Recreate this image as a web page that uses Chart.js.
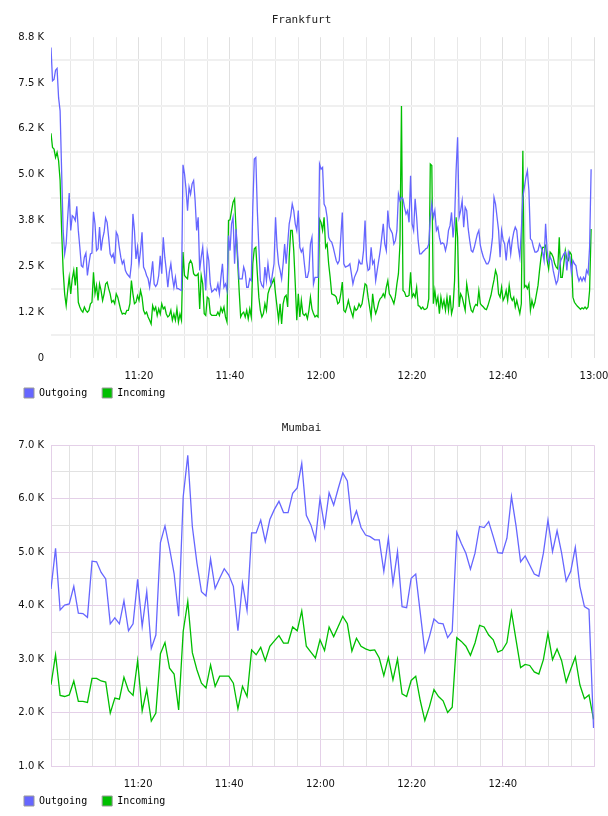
<!DOCTYPE html>
<html>
<head>
<meta charset="utf-8">
<script src="https://cdn.jsdelivr.net/npm/chart.js@4"></script>
<style>
  body { margin: 0; background: #fff; }
  .box { width: 608px; height: 408px; }
</style>
</head>
<body>
<div class="box"><canvas id="frankfurtChart" width="608" height="408"></canvas></div>
<div class="box"><canvas id="mumbaiChart" width="608" height="408"></canvas></div>
<script>
// sample times are minutes after 11:00
const frankfurtStart = 0.7;
const frankfurtStep = 1 / 3; // 20 s samples
const mumbaiStart = 0.9;
const mumbaiStep = 1; // 1 min samples

// values in K
const frankfurtOutgoing = [
  8.47, 7.56, 7.6, 7.85, 7.9, 7.1, 6.74, 5.1, 3.48, 2.84,
  3.11, 3.84, 4.5, 3.48, 3.88, 3.84, 3.75, 4.14, 3.48, 3.02,
  2.52, 2.48, 2.75, 2.86, 2.25, 2.57, 2.84, 2.86, 3.99, 3.66,
  2.93, 2.98, 3.57, 2.93, 3.25, 3.43, 3.82, 3.7, 3.29, 2.84,
  2.75, 2.84, 2.57, 3.43, 3.34, 3.02, 2.75, 2.57, 2.66, 2.39,
  2.3, 2.25, 2.2, 2.57, 3.93, 3.48, 2.7, 3.02, 2.57, 2.93,
  3.43, 2.48, 2.39, 2.25, 2.16, 1.93, 2.25, 2.64, 2.02, 1.95,
  2.02, 2.25, 2.79, 2.3, 3.29, 2.75, 2.39, 1.93, 2.34, 2.57,
  2.2, 1.93, 2.2, 1.89, 1.89, 1.86, 1.84, 5.27,
  5.02, 4.61, 4.02, 4.66, 4.47, 4.75, 4.84, 4.29, 3.48, 3.84,
  2.39, 2.75, 3.02, 2.39, 1.84, 2.89, 2.66, 2.02, 1.8, 1.84,
  1.89, 1.84, 2.02, 1.75, 2.2, 2.57, 1.93, 2.02, 1.84, 3.34,
  2.93, 3.66, 3.84, 2.57, 3.52, 2.84, 2.16, 2.16, 2.16, 2.48,
  2.34, 1.93, 1.93, 2.16, 2.11, 4.11, 5.43, 5.47, 4.02, 3.02,
  2.11, 1.98, 1.93, 2.48, 2.11, 2.57, 2.2, 2.02, 2.3, 2.57,
  3.84, 3.02, 2.57, 2.39, 2.16, 2.57, 3.11, 2.57, 3.11, 3.66,
  3.88, 4.2, 4.02, 3.66, 3.48, 4.02, 3.02, 2.89, 2.98, 2.57,
  2.2, 2.2, 2.39, 3.11, 3.29, 2.02, 2.2, 2.2, 2.2, 5.29,
  5.15, 5.2, 4.2, 4.11, 3.84, 3.29, 3.2, 3.16, 3.02, 2.84,
  2.66, 2.57, 2.66, 3.29, 3.97, 2.57, 2.48, 2.5, 2.52, 2.57,
  2.3, 2.02, 2.2, 2.3, 2.39, 2.66, 2.57, 2.57, 2.93, 3.75,
  2.66, 2.39, 2.43, 3.02, 2.57, 2.66, 2.11, 2.39, 2.66, 2.93,
  3.29, 3.66, 3.11, 2.93, 4.02, 3.57, 3.48, 3.4, 3.11, 3.2,
  3.48, 4.47, 4.29, 4.38, 4.34, 4.11, 3.93, 4.02, 3.7, 4.97,
  3.66, 3.48, 4.34, 3.84, 3.2, 2.84, 2.84, 2.89, 2.93, 2.98,
  3.0, 3.11, 3.84, 4.2, 3.84, 4.02, 3.48, 3.57, 3.29, 3.11,
  3.14, 3.11, 2.93, 3.11, 3.48, 3.61, 3.97, 3.29, 3.75, 5.11,
  6.02, 3.84, 4.02, 4.29, 3.57, 4.11, 4.02, 3.52, 3.2, 2.93,
  2.89, 3.02, 3.2, 3.38, 3.48, 3.07, 2.89, 2.75, 2.66, 2.57,
  2.57, 2.66, 2.93, 3.29, 4.38, 4.2, 3.84, 3.48, 2.75, 3.48,
  3.22, 3.11, 2.66, 3.11, 3.25, 2.84, 3.2, 3.43, 3.57, 3.48,
  3.02, 2.75, 3.48, 4.38, 4.65, 4.93, 5.11, 4.56, 3.25, 3.2,
  3.02, 2.89, 2.89, 2.93, 3.11, 3.02, 2.89, 2.66, 3.66, 2.93,
  2.61, 2.75, 2.66, 2.39, 2.2, 2.02, 2.11, 2.43, 2.66, 2.75,
  2.84, 2.89, 2.39, 2.89, 2.75, 2.34, 2.66, 2.57, 2.52, 2.25,
  2.1, 2.2, 2.1, 2.2, 2.11, 2.39, 2.3, 3.02, 5.15
];
const frankfurtIncoming = [
  6.13, 5.74, 5.7, 5.47, 5.61, 5.38, 4.84, 3.48, 2.39, 1.75,
  1.43, 1.84, 2.2, 1.75, 2.16, 2.39, 1.98, 2.48, 1.52, 1.39,
  1.3, 1.25, 1.39, 1.3, 1.25, 1.3, 1.48, 1.52, 2.34, 1.75,
  1.98, 1.57, 2.02, 1.84, 1.57, 1.75, 2.02, 2.07, 1.89, 1.75,
  1.52, 1.57, 1.48, 1.75, 1.66, 1.48, 1.3, 1.2, 1.22, 1.2,
  1.3, 1.3, 1.48, 2.11, 1.75, 1.48, 1.52, 1.7, 1.57, 1.84,
  1.66, 1.3, 1.2, 1.25, 1.12, 1.03, 0.93, 1.43, 1.3, 1.39,
  1.16, 1.34, 1.2, 1.48, 1.34, 1.39, 1.2, 1.12, 1.16, 1.3,
  1.03, 1.2, 1.03, 1.34, 0.98, 1.2, 1.03, 2.89,
  2.25, 2.2, 2.16, 2.57, 2.66, 2.57, 2.3, 2.25, 2.25, 2.3,
  1.34, 2.25, 2.02, 1.21, 1.16, 1.66, 1.62, 1.21, 1.16, 1.16,
  1.16, 1.16, 1.25, 1.16, 1.37, 1.25, 1.39, 1.12, 0.98, 3.75,
  3.77, 4.02, 4.25, 4.34, 3.48, 2.66, 1.84, 1.12, 1.21, 1.25,
  1.12, 1.3, 1.07, 1.34, 1.12, 2.57, 2.98, 3.02, 2.3, 1.66,
  1.3, 1.12, 1.21, 1.48, 1.3, 1.75, 1.89, 1.98, 2.07, 2.16,
  1.75, 1.39, 1.03, 1.48, 0.93, 1.48, 1.66, 1.71, 1.39, 2.75,
  3.48, 3.48, 2.93, 2.02, 1.03, 1.75, 1.12, 1.57, 1.21, 1.16,
  1.21, 1.07, 1.3, 1.66, 1.34, 1.21, 1.12, 1.16, 1.12, 3.79,
  3.7, 3.48, 3.84, 3.02, 3.11, 2.57, 2.2, 1.75, 1.73, 1.71,
  1.66, 1.48, 1.52, 1.75, 2.07, 1.3, 1.25, 1.39, 1.57, 1.39,
  1.25, 1.12, 1.39, 1.3, 1.34, 1.48, 1.39, 1.48, 1.75, 2.02,
  1.98, 1.66, 1.39, 1.12, 1.75, 1.39, 1.21, 1.34, 1.52, 1.62,
  1.66, 1.75, 1.66, 1.93, 2.11, 1.75, 1.68, 1.59, 1.48, 1.68,
  2.02, 2.3, 3.1, 6.87, 1.84, 1.8, 1.68, 1.68, 1.71, 2.34,
  1.66, 1.75, 1.66, 1.93, 1.43, 1.41, 1.34, 1.39, 1.32, 1.33,
  1.37, 1.62, 5.29, 5.25, 1.48, 1.84, 1.48, 1.66, 1.21, 1.66,
  1.39, 1.57, 1.3, 1.66, 1.3, 1.71, 1.21, 1.39, 2.11, 3.84,
  3.29, 1.39, 1.75, 1.66, 1.48, 1.3, 2.02, 1.75, 1.48, 1.3,
  1.25, 1.39, 1.46, 1.43, 1.84, 1.48, 1.43, 1.39, 1.34, 1.32,
  1.43, 1.57, 1.71, 1.93, 2.13, 2.39, 2.25, 1.75, 1.66, 1.93,
  1.57, 1.66, 1.84, 1.57, 1.98, 1.66, 1.57, 1.66, 1.39, 1.57,
  1.39, 1.21, 1.48, 5.65, 1.93, 1.98, 1.89, 2.02, 1.3, 1.57,
  1.39, 1.52, 1.75, 1.98, 2.39, 2.75, 3.02, 3.02, 3.07, 2.66,
  2.43, 2.89, 2.84, 2.75, 2.57, 2.48, 2.43, 3.29, 2.2, 2.2,
  2.57, 2.93, 2.7, 2.66, 2.89, 2.82, 1.66, 1.52, 1.46, 1.41,
  1.37, 1.33, 1.37, 1.34, 1.39, 1.34, 1.39, 1.84, 3.52
];

const mumbaiOutgoing = [
  4.31, 5.07, 3.92, 4.01, 4.03, 4.36, 3.86, 3.85, 3.78, 4.83,
  4.82, 4.62, 4.5, 3.66, 3.77, 3.66, 4.09, 3.53, 3.66, 4.49,
  3.61, 4.26, 3.2, 3.45, 5.18, 5.49, 5.07, 4.6, 3.8, 6.04,
  6.81, 5.48, 4.8, 4.26, 4.18, 4.87, 4.32, 4.51, 4.69, 4.57,
  4.36, 3.53, 4.42, 3.91, 5.36, 5.36, 5.6, 5.2, 5.61, 5.8,
  5.95, 5.74, 5.74, 6.1, 6.2, 6.66, 5.69, 5.51, 5.23, 6.0,
  5.48, 6.11, 5.88, 6.19, 6.48, 6.33, 5.54, 5.77, 5.46, 5.32,
  5.29, 5.23, 5.23, 4.64, 5.26, 4.41, 5.01, 3.98, 3.96, 4.51,
  4.59, 3.86, 3.14, 3.42, 3.75, 3.67, 3.66, 3.4, 3.52, 5.37,
  5.16, 4.98, 4.68, 4.98, 5.48, 5.46, 5.57, 5.29, 4.99, 4.98,
  5.26, 6.04, 5.49, 4.82, 4.93, 4.76, 4.59, 4.55, 4.98, 5.6,
  5.01, 5.4, 4.98, 4.46, 4.64, 5.09, 4.36, 3.98, 3.93, 1.71
];
const mumbaiIncoming = [
  2.52, 3.08, 2.32, 2.3, 2.33, 2.59, 2.21, 2.21, 2.19, 2.64,
  2.64, 2.59, 2.57, 1.99, 2.27, 2.25, 2.66, 2.41, 2.32, 2.97,
  2.03, 2.43, 1.84, 1.99, 3.1, 3.31, 2.83, 2.72, 2.05, 3.52,
  4.08, 3.12, 2.8, 2.55, 2.46, 2.89, 2.49, 2.68, 2.68, 2.68,
  2.55, 2.07, 2.49, 2.3, 3.17, 3.08, 3.22, 2.97, 3.24, 3.34,
  3.44, 3.3, 3.3, 3.6, 3.53, 3.9, 3.24, 3.13, 3.02, 3.36,
  3.16, 3.6, 3.42, 3.61, 3.8, 3.66, 3.15, 3.39, 3.24, 3.19,
  3.16, 3.17, 3.02, 2.69, 3.03, 2.61, 3.0, 2.35, 2.3, 2.6,
  2.68, 2.22, 1.85, 2.11, 2.43, 2.3, 2.22, 2.0, 2.1, 3.4,
  3.33, 3.24, 3.07, 3.3, 3.63, 3.6, 3.45, 3.36, 3.13, 3.17,
  3.31, 3.88, 3.36, 2.84, 2.9, 2.88, 2.76, 2.72, 2.99, 3.48,
  2.99, 3.19, 2.97, 2.57, 2.81, 3.04, 2.52, 2.26, 2.33, 1.87
];

// axis ticks
const frankfurtYTicks = [0, 1.25, 2.5, 3.75, 5, 6.25, 7.5, 8.75];
const frankfurtYLabels = ['0', '1.2 K', '2.5 K', '3.8 K', '5.0 K', '6.2 K', '7.5 K', '8.8 K'];
const mumbaiYTicks = [1, 2, 3, 4, 5, 6, 7];
const labelMinutes = [20, 40, 60, 80, 100, 120];
const timeLabels = ['11:20', '11:40', '12:00', '12:20', '12:40', '13:00'];

const BLUE = '#6666ff';
const GREEN = '#00bf00';
const tickFont = { family: 'DejaVu Sans', size: 10 };
const monoFont = { family: 'DejaVu Sans Mono', size: 10 };

function toPoints(start, step, values) {
  return values.map((v, i) => ({ x: start + i * step, y: v }));
}

// tick list with a half step between every labelled value
function withHalves(ticks) {
  const out = [];
  ticks.forEach((v, i) => {
    if (i > 0) out.push((ticks[i - 1] + v) / 2);
    out.push(v);
  });
  return out;
}

function timeAxis(min, max, major, minor, showLast) {
  const gridMinutes = [];
  for (let m = 5; m <= max; m += 5) gridMinutes.push(m);
  return {
    type: 'linear',
    min: min,
    max: max,
    afterBuildTicks: (s) => { s.ticks = gridMinutes.map((v) => ({ value: v })); },
    afterFit: (s) => {
      // thin axis box so the legend sits close; labels are allowed to spill out of it
      s.height = 15;
      s.paddingLeft = 0;
      s.paddingRight = 0;
      s._computeLabelArea = () => undefined;
    },
    ticks: {
      autoSkip: false,
      maxRotation: 0,
      minRotation: 0,
      padding: 12,
      font: tickFont,
      color: '#111',
      callback: (v) => {
        const k = labelMinutes.indexOf(v);
        if (k < 0 || (!showLast && v === max)) return '';
        return timeLabels[k];
      },
    },
    grid: {
      drawTicks: false,
      lineWidth: 1,
      color: (c) => (labelMinutes.includes(c.tick.value) ? major : minor),
    },
    border: { display: false },
  };
}

function makeChart(id, title, outgoing, incoming, xScale, yScale) {
  return new Chart(document.getElementById(id), {
    type: 'line',
    data: {
      datasets: [
        { label: 'Outgoing', data: outgoing, borderColor: BLUE, backgroundColor: BLUE },
        { label: 'Incoming', data: incoming, borderColor: GREEN, backgroundColor: GREEN },
      ],
    },
    options: {
      responsive: false,
      animation: false,
      parsing: false,
      elements: {
        point: { radius: 0 },
        line: { borderWidth: 1.3, tension: 0, fill: false },
      },
      layout: { padding: { left: 9, right: 14, top: 0, bottom: 0 } },
      scales: { x: xScale, y: yScale },
      plugins: {
        tooltip: { enabled: false },
        title: {
          display: true,
          text: title,
          color: '#222',
          font: { family: 'DejaVu Sans Mono', size: 11, weight: 'normal' },
          padding: { top: 14, bottom: 10 },
        },
        legend: {
          position: 'bottom',
          align: 'start',
          labels: {
            boxWidth: 10,
            boxHeight: 10,
            padding: 15,
            color: '#111',
            font: monoFont,
            generateLabels: (chart) =>
              chart.data.datasets.map((ds, i) => ({
                text: ds.label,
                fillStyle: ds.borderColor,
                strokeStyle: '#999',
                lineWidth: 1,
                hidden: false,
                datasetIndex: i,
              })),
          },
        },
      },
    },
  });
}

// Frankfurt
const frankfurtGrid = withHalves(frankfurtYTicks);
makeChart(
  'frankfurtChart',
  'Frankfurt',
  toPoints(frankfurtStart, frankfurtStep, frankfurtOutgoing),
  toPoints(frankfurtStart, frankfurtStep, frankfurtIncoming),
  timeAxis(frankfurtStart, 120, '#e0e0e0', '#e8e8e8', true),
  {
    type: 'linear',
    min: 0,
    max: 8.75,
    afterBuildTicks: (s) => { s.ticks = frankfurtGrid.map((v) => ({ value: v })); },
    afterFit: (s) => { s.width = 42; s.paddingTop = 0; s.paddingBottom = 0; },
    ticks: {
      autoSkip: false,
      padding: 7,
      font: tickFont,
      color: '#111',
      callback: (v) => {
        const k = frankfurtYTicks.indexOf(v);
        return k < 0 ? '' : frankfurtYLabels[k];
      },
    },
    grid: {
      drawTicks: false,
      lineWidth: 2,
      color: (c) => (frankfurtYTicks.includes(c.tick.value) ? 'rgba(0,0,0,0)' : '#f0f0f0'),
    },
    border: { display: false },
  }
);

// Mumbai
const mumbaiGrid = withHalves(mumbaiYTicks);
const PURPLE = '#e4d0e8';
makeChart(
  'mumbaiChart',
  'Mumbai',
  toPoints(mumbaiStart, mumbaiStep, mumbaiOutgoing),
  toPoints(mumbaiStart, mumbaiStep, mumbaiIncoming),
  Object.assign(timeAxis(mumbaiStart, 120, PURPLE, '#e2e2e2', false), {
    border: { display: true, color: PURPLE, width: 1 },
  }),
  {
    type: 'linear',
    min: 1,
    max: 7,
    afterBuildTicks: (s) => { s.ticks = mumbaiGrid.map((v) => ({ value: v })); },
    afterFit: (s) => { s.width = 42; s.paddingTop = 0; s.paddingBottom = 0; },
    ticks: {
      autoSkip: false,
      padding: 7,
      font: tickFont,
      color: '#111',
      callback: (v) => (mumbaiYTicks.includes(v) ? v.toFixed(1) + ' K' : ''),
    },
    grid: {
      drawTicks: false,
      lineWidth: 1,
      color: (c) => (mumbaiYTicks.includes(c.tick.value) ? PURPLE : '#e2e2e2'),
    },
    border: { display: true, color: PURPLE, width: 1 },
  }
);
</script>
</body>
</html>
